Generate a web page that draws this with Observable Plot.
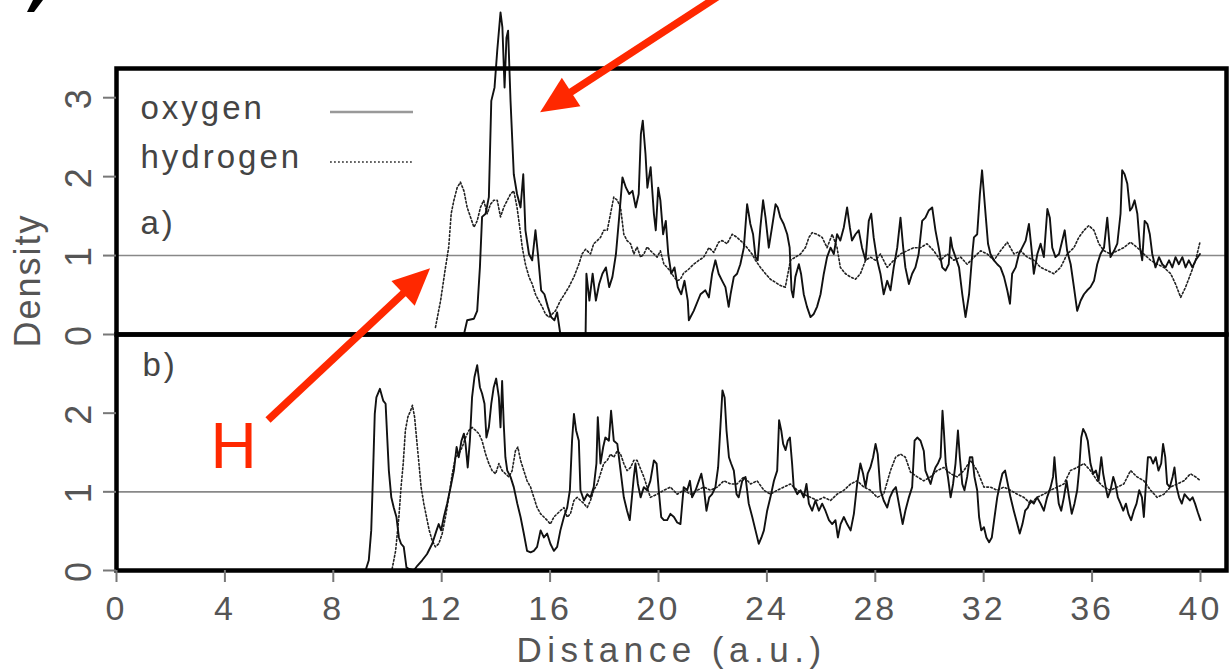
<!DOCTYPE html>
<html><head><meta charset="utf-8">
<script src="https://cdn.jsdelivr.net/npm/d3@7"></script>
<script src="https://cdn.jsdelivr.net/npm/@observablehq/plot@0.6"></script>
<style>
html,body{margin:0;padding:0;background:#fff}
#wrap{position:relative;width:1230px;height:672px;overflow:hidden;background:#fff}
#pa,#pb{position:absolute;left:0}
#pa{top:0}
#pb{top:334px}
svg{overflow:visible}
</style></head><body>
<div id="wrap"><div id="pa"></div><div id="pb"></div></div>
<script>
// ---------- data ----------
const xTicks = [0, 4, 8, 12, 16, 20, 24, 28, 32, 36, 40];
const yTicksA = [0, 1, 2, 3];
const yTicksB = [0, 1, 2];
const seriesNames = ["oxygen", "hydrogen"];
const panelNames = ["a)", "b)"];
const xLabel = "Distance (a.u.)";
const yLabel = "Density";
const refDensity = [1];

const oxygenA = [[12.82,0],[12.94,0.18],[13.19,0.20],[13.31,0.30],[13.41,0.85],[13.49,1.49],[13.62,1.53],[13.74,1.74],[13.83,2.96],[13.95,3.13],[14.05,3.60],[14.17,4.08],[14.24,3.89],[14.32,3.13],[14.39,3.76],[14.45,3.85],[14.54,2.96],[14.66,2.03],[14.78,1.78],[14.91,1.61],[15.01,2.03],[15.09,1.32],[15.22,1.02],[15.34,0.94],[15.46,1.32],[15.55,1.02],[15.67,0.56],[15.79,0.51],[15.92,0.35],[16.04,0.22],[16.16,0.18],[16.26,0.28],[16.38,0],[17.31,0],[17.34,0.77],[17.45,0.43],[17.57,0.77],[17.69,0.43],[17.81,0.64],[17.93,0.77],[18.06,0.85],[18.18,0.60],[18.30,0.73],[18.43,1.02],[18.55,1.49],[18.67,1.99],[18.80,1.86],[18.92,1.78],[19.04,1.82],[19.16,1.61],[19.27,1.78],[19.35,2.54],[19.42,2.71],[19.52,2.29],[19.59,1.86],[19.71,2.12],[19.83,1.53],[19.90,1.32],[19.99,1.86],[20.07,1.70],[20.17,1.27],[20.27,1.44],[20.36,1.02],[20.47,0.77],[20.59,0.85],[20.71,0.60],[20.84,0.51],[20.96,0.68],[21.08,0.43],[21.12,0.18],[21.30,0.30],[21.55,0.51],[21.73,0.56],[21.86,0.47],[21.98,0.77],[22.10,0.94],[22.22,0.77],[22.35,0.68],[22.47,0.60],[22.59,0.35],[22.66,0.51],[22.78,0.73],[22.90,0.77],[23.02,0.89],[23.15,1.10],[23.27,1.65],[23.33,1.53],[23.39,1.40],[23.49,1.27],[23.58,0.98],[23.66,0.94],[23.76,1.36],[23.86,1.70],[23.95,1.48],[24.07,1.10],[24.19,1.36],[24.32,1.65],[24.40,1.61],[24.50,1.48],[24.62,1.40],[24.75,1.27],[24.84,1.10],[24.91,0.56],[24.97,0.47],[25.05,0.73],[25.18,0.89],[25.26,0.77],[25.36,0.51],[25.48,0.35],[25.61,0.22],[25.73,0.26],[25.85,0.35],[25.98,0.51],[26.10,0.77],[26.22,0.98],[26.35,1.10],[26.47,1.02],[26.59,1.27],[26.71,1.19],[26.84,1.36],[26.96,1.61],[27.06,1.36],[27.14,1.19],[27.27,1.27],[27.39,1.32],[27.51,1.10],[27.64,0.94],[27.76,1.44],[27.85,1.53],[27.94,1.23],[28.07,0.94],[28.19,0.77],[28.31,0.51],[28.44,0.68],[28.56,0.56],[28.68,0.85],[28.81,1.10],[28.93,1.48],[29.03,1.10],[29.11,0.85],[29.24,0.64],[29.36,0.77],[29.48,0.85],[29.60,1.02],[29.73,1.44],[29.85,1.48],[29.97,1.57],[30.10,1.61],[30.22,1.32],[30.34,1.10],[30.47,0.85],[30.59,0.81],[30.71,0.89],[30.78,1.23],[30.84,1.10],[30.96,0.98],[31.09,0.85],[31.21,0.51],[31.33,0.22],[31.46,0.51],[31.58,1.02],[31.64,1.23],[31.76,1.27],[31.86,1.78],[31.94,2.08],[32.01,1.78],[32.08,1.48],[32.16,1.15],[32.25,1.02],[32.38,0.94],[32.50,0.89],[32.62,0.85],[32.75,0.73],[32.87,0.56],[32.97,0.39],[33.05,0.77],[33.18,0.85],[33.30,1.02],[33.42,1.10],[33.55,1.19],[33.67,1.40],[33.76,1.10],[33.85,0.77],[33.98,1.02],[34.10,1.15],[34.22,0.98],[34.35,1.59],[34.44,1.48],[34.53,1.10],[34.65,0.98],[34.78,1.02],[34.90,1.19],[34.99,1.32],[35.08,1.06],[35.21,0.89],[35.33,0.60],[35.45,0.30],[35.58,0.43],[35.70,0.51],[35.82,0.56],[35.94,0.60],[36.07,0.68],[36.19,0.89],[36.31,1.02],[36.44,1.10],[36.56,1.48],[36.68,0.98],[36.81,1.06],[36.93,1.15],[37.05,1.53],[37.11,2.08],[37.20,2.03],[37.30,1.91],[37.40,1.57],[37.48,1.61],[37.57,1.70],[37.67,1.53],[37.77,1.10],[37.85,0.94],[37.94,1.44],[38.04,1.40],[38.13,1.27],[38.22,1.02],[38.34,0.85],[38.47,0.98],[38.59,0.89],[38.71,0.85],[38.84,0.94],[38.96,0.85],[39.08,0.98],[39.20,0.89],[39.33,0.98],[39.45,0.85],[39.57,0.94],[39.70,0.85],[39.82,0.94],[39.98,1.02]];

const hydrogenA = [[11.77,0.09],[11.96,0.43],[12.14,0.85],[12.26,1.11],[12.35,1.53],[12.45,1.70],[12.57,1.86],[12.69,1.93],[12.82,1.82],[12.94,1.61],[13.06,1.49],[13.19,1.36],[13.31,1.44],[13.43,1.61],[13.55,1.70],[13.68,1.53],[13.80,1.65],[13.92,1.70],[14.05,1.70],[14.17,1.49],[14.29,1.61],[14.42,1.70],[14.54,1.78],[14.66,1.82],[14.78,1.61],[14.88,1.36],[14.97,1.11],[15.09,0.89],[15.22,0.73],[15.34,0.64],[15.46,0.51],[15.58,0.43],[15.71,0.35],[15.83,0.26],[15.95,0.22],[16.08,0.26],[16.20,0.30],[16.38,0.43],[16.53,0.51],[16.69,0.60],[16.88,0.73],[17.06,0.89],[17.18,1.02],[17.31,1.08],[17.49,1.02],[17.61,1.15],[17.74,1.19],[17.86,1.23],[17.98,1.32],[18.11,1.32],[18.23,1.53],[18.35,1.74],[18.48,1.70],[18.60,1.61],[18.72,1.27],[18.84,1.19],[18.97,1.15],[19.09,1.02],[19.21,1.11],[19.34,0.98],[19.46,1.02],[19.58,1.11],[19.71,1.06],[19.83,1.02],[19.95,0.98],[20.07,1.06],[20.20,0.89],[20.32,0.85],[20.44,0.80],[20.57,0.73],[20.69,0.68],[20.81,0.70],[20.93,0.78],[21.06,0.81],[21.30,0.89],[21.49,0.94],[21.67,0.98],[21.86,1.10],[22.04,1.04],[22.22,1.17],[22.35,1.19],[22.53,1.15],[22.72,1.27],[22.90,1.23],[23.09,1.17],[23.27,1.10],[23.45,1.02],[23.58,0.94],[23.76,0.85],[23.95,0.77],[24.13,0.70],[24.32,0.66],[24.50,0.62],[24.68,0.60],[24.87,0.94],[25.05,0.98],[25.24,1.02],[25.42,1.10],[25.55,1.23],[25.67,1.29],[25.85,1.27],[26.04,1.23],[26.22,1.10],[26.41,1.27],[26.59,1.10],[26.71,0.85],[26.90,0.77],[27.08,0.73],[27.27,0.70],[27.45,0.77],[27.64,0.94],[27.82,0.98],[28.01,0.94],[28.19,1.02],[28.44,0.85],[28.68,0.94],[28.93,1.02],[29.17,1.06],[29.42,1.10],[29.67,1.10],[29.91,1.15],[30.16,1.06],[30.40,0.94],[30.66,1.02],[30.90,0.94],[31.15,0.98],[31.39,0.89],[31.64,0.98],[31.89,1.06],[32.13,1.02],[32.38,0.94],[32.62,1.06],[32.87,1.17],[33.12,1.02],[33.36,1.06],[33.61,0.98],[33.85,0.94],[34.10,0.85],[34.35,0.81],[34.59,0.77],[34.84,0.85],[35.08,1.02],[35.33,1.10],[35.51,1.23],[35.70,1.32],[35.88,1.38],[36.07,1.32],[36.25,1.15],[36.44,1.06],[36.68,1.02],[36.93,1.06],[37.17,1.10],[37.42,1.17],[37.67,1.10],[37.91,1.02],[38.16,0.94],[38.41,0.89],[38.65,0.85],[38.90,0.77],[39.08,0.64],[39.27,0.47],[39.45,0.60],[39.64,0.77],[39.82,0.94],[39.98,1.17]];

const oxygenB = [[9.19,0],[9.31,0.13],[9.40,0.51],[9.47,1.27],[9.53,1.99],[9.59,2.20],[9.72,2.31],[9.84,2.16],[9.93,2.12],[9.99,1.69],[10.05,1.27],[10.14,0.93],[10.23,0.80],[10.33,0.68],[10.42,0.42],[10.50,0.34],[10.60,0.30],[10.70,0.04],[10.79,0.02],[10.97,0],[11.10,0.06],[11.28,0.13],[11.46,0.21],[11.65,0.34],[11.81,0.51],[11.89,0.59],[11.98,0.51],[12.08,0.68],[12.20,0.85],[12.33,1.06],[12.45,1.27],[12.55,1.57],[12.63,1.44],[12.73,1.65],[12.82,1.74],[12.88,1.61],[12.96,1.31],[13.04,1.65],[13.12,2.20],[13.21,2.46],[13.31,2.61],[13.41,2.33],[13.49,2.25],[13.58,2.12],[13.65,1.69],[13.74,1.82],[13.83,2.12],[13.92,2.33],[14.01,2.44],[14.11,2.20],[14.17,1.82],[14.23,2.41],[14.29,1.86],[14.35,1.44],[14.42,1.27],[14.54,1.19],[14.66,1.06],[14.79,0.85],[14.91,0.68],[15.03,0.47],[15.15,0.25],[15.28,0.23],[15.40,0.25],[15.52,0.30],[15.65,0.51],[15.77,0.42],[15.89,0.47],[16.01,0.34],[16.14,0.25],[16.26,0.30],[16.38,0.51],[16.51,0.68],[16.63,0.80],[16.73,1.02],[16.81,1.65],[16.88,1.99],[16.96,1.78],[17.06,1.65],[17.12,1.02],[17.25,0.89],[17.37,0.97],[17.49,0.93],[17.61,1.06],[17.71,1.36],[17.76,1.95],[17.86,1.36],[17.96,1.57],[18.04,1.69],[18.17,1.65],[18.25,2.03],[18.35,1.65],[18.48,1.61],[18.60,1.27],[18.72,0.93],[18.84,0.76],[18.94,0.64],[19.09,1.19],[19.15,1.36],[19.24,1.10],[19.34,0.93],[19.46,1.06],[19.58,1.02],[19.70,1.14],[19.83,1.40],[19.93,1.36],[20.01,1.02],[20.10,0.68],[20.20,0.64],[20.32,0.64],[20.44,0.72],[20.57,0.68],[20.69,0.61],[20.81,0.59],[20.93,1.06],[21.06,1.02],[21.16,1.14],[21.24,0.93],[21.37,1.02],[21.49,1.14],[21.58,1.23],[21.67,1.06],[21.77,0.76],[21.87,0.93],[21.98,0.97],[22.10,1.06],[22.20,1.31],[22.29,1.86],[22.36,2.29],[22.44,2.20],[22.51,1.78],[22.60,1.44],[22.68,1.36],[22.78,1.27],[22.88,0.97],[22.96,0.93],[23.09,1.14],[23.21,1.19],[23.33,0.85],[23.46,0.68],[23.58,0.51],[23.70,0.34],[23.80,0.42],[23.89,0.51],[24.01,0.76],[24.13,0.93],[24.26,1.14],[24.38,1.27],[24.45,1.91],[24.53,1.78],[24.60,1.61],[24.69,1.53],[24.77,1.65],[24.85,1.69],[24.93,1.36],[24.99,1.06],[25.12,0.97],[25.24,1.02],[25.36,0.93],[25.46,1.10],[25.55,0.85],[25.67,0.76],[25.79,0.89],[25.92,0.76],[26.04,0.85],[26.16,0.76],[26.29,0.64],[26.41,0.59],[26.53,0.64],[26.62,0.42],[26.72,0.59],[26.84,0.68],[26.96,0.59],[27.09,0.51],[27.21,0.72],[27.33,1.10],[27.45,1.36],[27.55,1.23],[27.64,1.06],[27.72,1.23],[27.82,1.31],[27.92,1.44],[28.01,1.61],[28.09,1.48],[28.19,1.02],[28.31,0.89],[28.44,0.80],[28.54,0.93],[28.66,1.02],[28.76,1.06],[28.87,0.85],[29.01,0.59],[29.11,0.76],[29.24,0.93],[29.36,1.06],[29.45,1.65],[29.55,1.69],[29.67,1.65],[29.79,1.52],[29.85,1.27],[29.94,1.19],[30.04,1.10],[30.14,1.23],[30.22,1.31],[30.31,1.36],[30.41,1.44],[30.48,2.03],[30.53,1.78],[30.60,1.36],[30.68,1.19],[30.78,0.93],[30.87,1.10],[30.96,1.36],[31.05,1.78],[31.12,1.44],[31.21,1.10],[31.29,1.02],[31.39,1.19],[31.49,1.44],[31.58,1.44],[31.66,1.19],[31.76,1.02],[31.83,0.68],[31.91,0.51],[32.01,0.55],[32.10,0.42],[32.20,0.36],[32.30,0.42],[32.40,0.68],[32.50,0.93],[32.60,1.10],[32.69,1.23],[32.79,1.27],[32.89,1.10],[32.99,0.93],[33.11,0.76],[33.24,0.59],[33.33,0.47],[33.43,0.59],[33.53,0.76],[33.63,0.80],[33.73,0.89],[33.85,0.85],[33.97,0.93],[34.10,0.85],[34.22,0.76],[34.34,0.93],[34.47,1.06],[34.56,1.19],[34.61,1.44],[34.69,1.10],[34.77,0.85],[34.86,0.76],[34.96,0.93],[35.06,1.14],[35.15,0.93],[35.25,0.72],[35.35,0.85],[35.45,1.02],[35.52,1.27],[35.60,1.69],[35.67,1.80],[35.76,1.74],[35.84,1.65],[35.94,1.36],[36.04,1.23],[36.14,1.27],[36.24,1.14],[36.34,1.44],[36.41,1.23],[36.50,1.06],[36.58,0.93],[36.68,1.02],[36.78,1.19],[36.86,1.10],[36.95,0.93],[37.05,0.85],[37.15,0.76],[37.25,0.85],[37.34,0.72],[37.44,0.64],[37.54,0.76],[37.64,0.85],[37.74,1.02],[37.84,0.93],[37.91,0.68],[37.98,1.06],[38.06,1.44],[38.16,1.44],[38.25,1.36],[38.35,1.44],[38.45,1.27],[38.55,1.36],[38.62,1.61],[38.70,1.44],[38.77,1.10],[38.87,1.06],[38.97,1.19],[39.04,1.31],[39.12,1.06],[39.21,0.93],[39.31,0.85],[39.41,0.97],[39.51,0.93],[39.61,0.89],[39.71,0.93],[39.80,0.85],[39.90,0.74],[40.00,0.64]];

const hydrogenB = [[10.17,0.02],[10.30,0.25],[10.42,0.68],[10.50,1.06],[10.58,1.36],[10.66,1.78],[10.75,1.95],[10.85,2.03],[10.92,2.10],[11.00,1.95],[11.07,1.69],[11.16,1.36],[11.24,1.06],[11.34,0.85],[11.44,0.68],[11.54,0.51],[11.65,0.38],[11.77,0.30],[11.89,0.34],[12.02,0.47],[12.14,0.68],[12.26,0.93],[12.39,1.23],[12.51,1.44],[12.63,1.48],[12.76,1.57],[12.88,1.69],[13.00,1.78],[13.12,1.82],[13.25,1.78],[13.37,1.74],[13.49,1.65],[13.62,1.48],[13.74,1.36],[13.86,1.27],[13.99,1.23],[14.11,1.36],[14.23,1.27],[14.35,1.23],[14.48,1.19],[14.60,1.27],[14.72,1.52],[14.81,1.57],[14.91,1.40],[15.03,1.27],[15.15,1.14],[15.28,1.06],[15.40,0.93],[15.52,0.80],[15.65,0.72],[15.77,0.68],[15.89,0.64],[16.01,0.59],[16.14,0.68],[16.26,0.72],[16.38,0.76],[16.51,0.80],[16.63,0.68],[16.75,0.72],[16.88,0.89],[17.00,0.93],[17.12,0.89],[17.25,0.85],[17.37,0.80],[17.49,0.89],[17.61,1.02],[17.74,1.10],[17.86,1.23],[17.98,1.36],[18.11,1.40],[18.23,1.48],[18.35,1.44],[18.48,1.52],[18.60,1.48],[18.72,1.36],[18.84,1.27],[18.97,1.31],[19.09,1.40],[19.21,1.40],[19.46,1.19],[19.70,0.93],[19.95,0.97],[20.20,1.02],[20.44,1.06],[20.69,0.97],[20.93,1.02],[21.18,0.97],[21.43,1.02],[21.67,1.06],[21.92,1.02],[22.17,1.06],[22.41,1.14],[22.66,1.10],[22.90,1.10],[23.15,1.19],[23.40,1.10],[23.64,1.14],[23.89,1.02],[24.13,0.97],[24.38,1.02],[24.62,1.06],[24.87,1.10],[25.12,1.02],[25.36,0.97],[25.61,0.93],[25.86,0.89],[26.10,0.93],[26.35,0.89],[26.59,0.97],[26.84,1.02],[27.09,1.10],[27.33,1.14],[27.58,1.06],[27.82,1.02],[28.07,0.93],[28.31,0.97],[28.56,1.27],[28.75,1.44],[28.93,1.48],[29.11,1.44],[29.30,1.25],[29.55,1.19],[29.79,1.14],[30.04,1.19],[30.28,1.27],[30.53,1.31],[30.78,1.23],[31.02,1.19],[31.27,1.27],[31.51,1.40],[31.76,1.27],[32.01,1.06],[32.25,1.06],[32.50,1.02],[32.74,1.06],[32.99,1.02],[33.24,0.97],[33.48,0.93],[33.73,0.85],[33.97,0.93],[34.22,0.97],[34.47,1.02],[34.71,1.06],[34.96,1.10],[35.20,1.27],[35.45,1.31],[35.70,1.36],[35.94,1.27],[36.19,1.14],[36.43,1.06],[36.68,1.02],[36.93,1.06],[37.17,1.10],[37.42,1.27],[37.66,1.19],[37.91,1.14],[38.16,1.02],[38.40,0.93],[38.65,0.97],[38.89,1.06],[39.14,1.10],[39.39,1.14],[39.63,1.23],[39.82,1.19],[40.00,1.14]];

// ---------- style ----------
const FONT = "'Liberation Sans', Arial, sans-serif";
const TXT = "#555";
const RED = "#ff2800";
const xDomain = [0, 40.96];
const solid = {x: d => d[0], y: d => d[1], stroke: "#111", strokeWidth: 1.9, curve: "linear"};
const dotted = {x: d => d[0], y: d => d[1], stroke: "#222", strokeWidth: 1.6, strokeDasharray: "1.8,2.2", curve: "linear"};
const intFmt = d => String(d);

function arrow(x1, y1, x2, y2) {
  return (index, scales) => {
    const ax = scales.x(x1), ay = scales.y(y1), bx = scales.x(x2), by = scales.y(y2);
    const dx = bx - ax, dy = by - ay, L = Math.hypot(dx, dy), ux = dx / L, uy = dy / L;
    const head = 37, half = 17;
    const cx = bx - ux * head, cy = by - uy * head;
    const g = d3.create("svg:g");
    g.append("line").attr("x1", ax).attr("y1", ay).attr("x2", cx + ux * 3).attr("y2", cy + uy * 3)
      .attr("stroke", RED).attr("stroke-width", 7.5);
    g.append("path").attr("d", `M${bx},${by}L${cx - uy * half},${cy + ux * half}L${cx + uy * half},${cy - ux * half}Z`)
      .attr("fill", RED);
    return g.node();
  };
}

function legendSample(offsetX1, offsetX2, offsetY, attrs) {
  return (index, scales, values, dim) => {
    const g = d3.create("svg:g");
    const l = g.append("line")
      .attr("x1", dim.marginLeft + offsetX1).attr("x2", dim.marginLeft + offsetX2)
      .attr("y1", dim.marginTop + offsetY).attr("y2", dim.marginTop + offsetY);
    for (const k in attrs) l.attr(k, attrs[k]);
    return g.node();
  };
}

function cornerMark() {
  return () => {
    const g = d3.create("svg:g");
    g.append("path").attr("d", "M33,0L43,0L34,12L27,12Z").attr("fill", "#000");
    return g.node();
  };
}

// ---------- panel a ----------
const plotA = Plot.plot({
  width: 1230, height: 334,
  marginTop: 68, marginBottom: 0, marginLeft: 116, marginRight: 4,
  style: {background: "transparent", overflow: "visible", fontFamily: FONT},
  x: {domain: xDomain, axis: null},
  y: {domain: [0, 3.37], axis: null},
  marks: [
    Plot.ruleY(refDensity, {stroke: "#888", strokeWidth: 1.6}),
    Plot.line(hydrogenA, dotted),
    Plot.line(oxygenA, solid),
    Plot.frame({stroke: "#000", strokeWidth: 4.5}),
    Plot.axisY(yTicksA, {anchor: "left", tickSize: 13, tickPadding: 13, tickRotate: -90, fontSize: 36,
      tickFormat: intFmt, stroke: "#777", fill: TXT, strokeWidth: 2, label: null}),
    Plot.text([yLabel], {frameAnchor: "left", dx: -88, dy: 79, rotate: -90, fontSize: 36, fill: TXT,
      textAnchor: "middle", lineAnchor: "middle"}),
    Plot.text([seriesNames[0]], {frameAnchor: "top-left", dx: 24, dy: 40, textAnchor: "start",
      lineAnchor: "middle", fontSize: 33, fill: "#444"}),
    Plot.text([seriesNames[1]], {frameAnchor: "top-left", dx: 24, dy: 89, textAnchor: "start",
      lineAnchor: "middle", fontSize: 33, fill: "#444"}),
    Plot.text([panelNames[0]], {frameAnchor: "top-left", dx: 24, dy: 155, textAnchor: "start",
      lineAnchor: "middle", fontSize: 33, fill: "#444"}),
    legendSample(214, 297, 44, {stroke: "#999", "stroke-width": 2.5}),
    legendSample(214, 297, 94, {stroke: "#333", "stroke-width": 1.6, "stroke-dasharray": "1.8,2.2"}),
    arrow(22.36, 4.31, 15.65, 2.81),
    cornerMark()
  ]
});

// ---------- panel b ----------
const plotB = Plot.plot({
  width: 1230, height: 338,
  marginTop: 0, marginBottom: 102, marginLeft: 116, marginRight: 4,
  style: {background: "transparent", overflow: "visible", fontFamily: FONT},
  x: {domain: xDomain, axis: null},
  y: {domain: [0, 3.0], axis: null},
  marks: [
    Plot.ruleY(refDensity, {stroke: "#888", strokeWidth: 1.6}),
    Plot.line(hydrogenB, dotted),
    Plot.line(oxygenB, solid),
    Plot.frame({stroke: "#000", strokeWidth: 4.5}),
    Plot.axisY(yTicksB, {anchor: "left", tickSize: 13, tickPadding: 13, tickRotate: -90, fontSize: 36,
      tickFormat: intFmt, stroke: "#777", fill: TXT, strokeWidth: 2, label: null}),
    Plot.axisX(xTicks, {anchor: "bottom", tickSize: 12, tickPadding: 13, fontSize: 34,
      tickFormat: intFmt, stroke: "#777", fill: TXT, strokeWidth: 2, label: null}),
    Plot.text([xLabel], {frameAnchor: "bottom", dy: 67, lineAnchor: "top", fontSize: 35, fill: TXT}),
    Plot.text([panelNames[1]], {frameAnchor: "top-left", dx: 26, dy: 31, textAnchor: "start",
      lineAnchor: "middle", fontSize: 33, fill: "#444"}),
    Plot.text(["H"], {x: 4.32, y: 1.56, fontSize: 64, fill: RED, lineAnchor: "middle"}),
    arrow(5.61, 1.906, 11.59, 3.837)
  ]
});

document.getElementById("pa").appendChild(plotA);
document.getElementById("pb").appendChild(plotB);

// letter spacing tweaks
const spacing = {"oxygen": 3, "hydrogen": 3, "a)": 3, "b)": 3, "Density": 2, "Distance (a.u.)": 5.5, "H": 0};
for (const svg of [plotA, plotB]) {
  d3.select(svg).selectAll("text").each(function() {
    const t = this.textContent;
    const s = (t in spacing) ? spacing[t] : 3;
    this.style.letterSpacing = s + "px";
  });
}
</script></body></html>
